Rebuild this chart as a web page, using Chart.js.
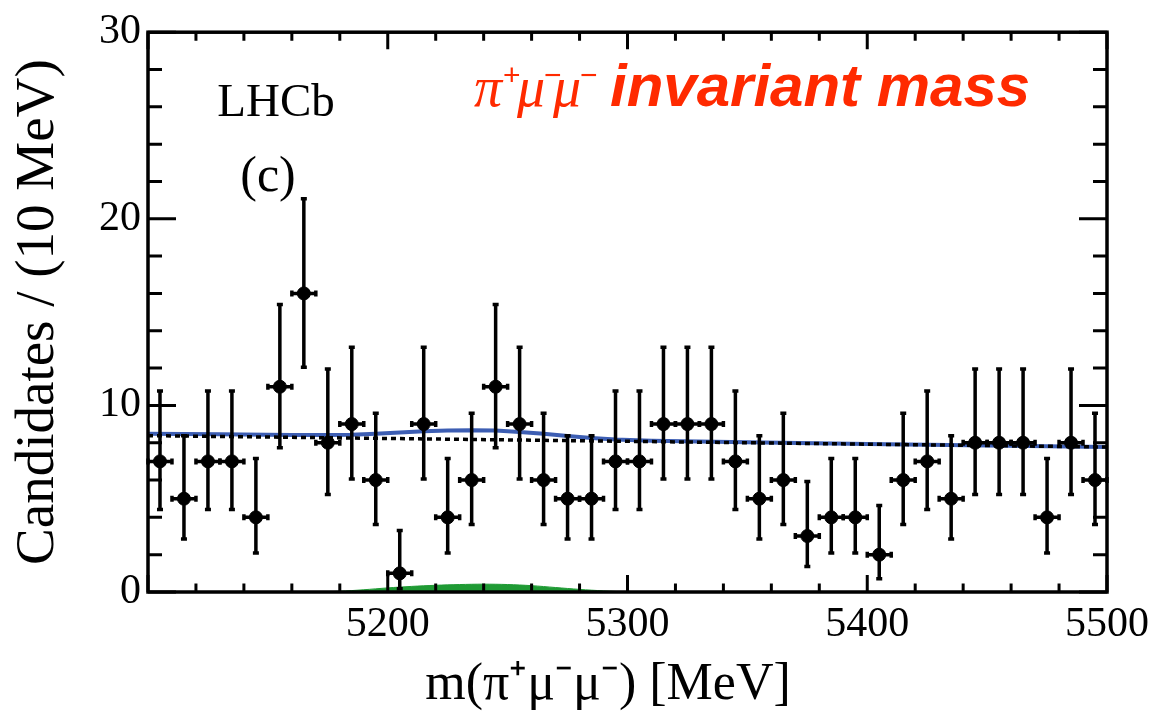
<!DOCTYPE html>
<html>
<head>
<meta charset="utf-8">
<script src="https://cdn.jsdelivr.net/npm/chart.js@4.4.1/dist/chart.umd.min.js"></script>
<style>
html,body{margin:0;padding:0;background:#fff;}
#wrap{width:1157px;height:717px;}
</style>
</head>
<body>
<div id="wrap"><canvas id="c" width="1157" height="717"></canvas></div>
<script>
// ---- data ----
const binCenters = [5105,5115,5125,5135,5145,5155,5165,5175,5185,5195,
                    5205,5215,5225,5235,5245,5255,5265,5275,5285,5295,
                    5305,5315,5325,5335,5345,5355,5365,5375,5385,5395,
                    5405,5415,5425,5435,5445,5455,5465,5475,5485,5495];
const counts = [7,5,7,7,4,11,16,8,9,6,
                1,9,4,6,11,9,6,5,5,7,
                7,9,9,9,7,5,6,3,4,4,
                2,6,7,5,8,8,8,4,8,6];
const errLow = [4.42,2.84,4.42,4.42,2.09,7.73,12.05,5.23,6.06,3.62,
                0.17,6.06,2.09,3.62,7.73,6.06,3.62,2.84,2.84,4.42,
                4.42,6.06,6.06,6.06,4.42,2.84,3.62,1.37,2.09,2.09,
                0.71,3.62,4.42,2.84,5.23,5.23,5.23,2.09,5.23,3.62];
const errHigh = [10.77,8.38,10.77,10.77,7.16,15.41,21.08,11.95,13.11,9.58,
                 3.30,13.11,7.16,9.58,15.41,13.11,9.58,8.38,8.38,10.77,
                 10.77,13.11,13.11,13.11,10.77,8.38,9.58,5.92,7.16,7.16,
                 4.64,9.58,10.77,8.38,11.95,11.95,11.95,7.16,11.95,9.58];
const binHalfWidth = 5;

const fitX     = [5100,5100,5130,5160,5175,5185,5195,5205,5215,5225,5235,5245,5255,5265,5275,5285,5295,5310,5350,5400,5450,5500,5500];
const fitTotal = [0,8.48,8.45,8.42,8.41,8.43,8.48,8.55,8.61,8.65,8.67,8.65,8.58,8.48,8.36,8.25,8.17,8.11,8.02,7.93,7.85,7.77,0];
const bkgX     = [5100,5100,5500,5500];
const bkgVals  = [0,8.38,7.77,0];
const sigX     = [5170,5180,5190,5200,5210,5220,5230,5240,5250,5260,5270,5280,5290,5300];
const sigVals  = [0,0.04,0.12,0.22,0.30,0.36,0.40,0.42,0.40,0.34,0.24,0.14,0.06,0];

const xTickLabels = ['5200','5300','5400','5500'];
const yTickLabels = ['0','10','20','30'];

const toXY = (xs, ys) => xs.map((x,i)=>({x:x, y:ys[i]}));

// ---- plugins ----
const errorBars = {
  id:'errorBars',
  beforeDatasetDraw(chart, args){
    if (args.index !== 0) return;
    const xs = chart.scales.x, ys = chart.scales.y, ctx = chart.ctx;
    ctx.save();
    ctx.strokeStyle = '#000';
    ctx.lineWidth = 3.5;
    const cap = 3;
    binCenters.forEach((c,i)=>{
      const px = xs.getPixelForValue(c);
      const py = ys.getPixelForValue(counts[i]);
      const yl = ys.getPixelForValue(errLow[i]);
      const yh = ys.getPixelForValue(errHigh[i]);
      const xl = xs.getPixelForValue(c - binHalfWidth);
      const xr = xs.getPixelForValue(c + binHalfWidth);
      ctx.beginPath();
      ctx.moveTo(px, yl); ctx.lineTo(px, yh);
      ctx.moveTo(xl, py); ctx.lineTo(xr, py);
      ctx.moveTo(px-cap, yl); ctx.lineTo(px+cap, yl);
      ctx.moveTo(px-cap, yh); ctx.lineTo(px+cap, yh);
      ctx.moveTo(xl, py-cap); ctx.lineTo(xl, py+cap);
      ctx.moveTo(xr, py-cap); ctx.lineTo(xr, py+cap);
      ctx.stroke();
    });
    ctx.restore();
  }
};

const frameAndText = {
  id:'frameAndText',
  afterDraw(chart){
    const ctx = chart.ctx, a = chart.chartArea;
    const xs = chart.scales.x, ys = chart.scales.y;
    ctx.save();
    ctx.strokeStyle = '#000';
    ctx.lineWidth = 3;
    ctx.lineCap = 'butt';
    ctx.beginPath();
    for (let v = 5100; v <= 5500; v += 20) {
      const px = xs.getPixelForValue(v);
      const len = (v % 100 === 0) ? 17 : 8.5;
      ctx.moveTo(px, a.bottom); ctx.lineTo(px, a.bottom - len);
      ctx.moveTo(px, a.top); ctx.lineTo(px, a.top + len);
    }
    for (let v = 0; v <= 30; v += 2) {
      const py = ys.getPixelForValue(v);
      const len = (v % 10 === 0) ? 28 : 14;
      ctx.moveTo(a.left, py); ctx.lineTo(a.left + len, py);
      ctx.moveTo(a.right, py); ctx.lineTo(a.right - len, py);
    }
    ctx.stroke();
    ctx.lineWidth = 3.5;
    ctx.strokeRect(a.left, a.top, a.right - a.left, a.bottom - a.top);

    // LHCb label
    ctx.fillStyle = '#000';
    ctx.textAlign = 'center';
    ctx.textBaseline = 'alphabetic';
    ctx.font = '47px "Liberation Serif"';
    ctx.fillText('LHCb', 276, 116);
    ctx.font = '50px "Liberation Serif"';
    ctx.fillText('(c)', 268, 191);

    // red annotation
    ctx.fillStyle = '#ff2a00';
    ctx.textAlign = 'left';
    const base = 106;
    const gfont = 'italic 56px "Liberation Serif"';
    const sfont = '30px "Liberation Sans"';
    const parts = [
      ['π', gfont, 0, 474],
      ['+', sfont, -21, 503],
      ['μ', gfont, 0, 517],
      ['−', sfont, -21, 544],
      ['μ', gfont, 0, 553],
      ['−', sfont, -21, 580],
      ['invariant mass', 'italic bold 60px "Liberation Sans"', 0, 610]
    ];
    parts.forEach(p=>{
      ctx.font = p[1];
      ctx.fillText(p[0], p[3], base + p[2]);
    });
    ctx.restore();
  }
};

const serif = '"Liberation Serif", "Times New Roman", serif';

new Chart(document.getElementById('c'), {
  type: 'scatter',
  data: {
    datasets: [
      {
        label: 'data',
        data: toXY(binCenters, counts),
        backgroundColor: '#000',
        borderColor: '#000',
        pointRadius: 6.5,
        pointStyle: 'circle',
        order: 0
      },
      {
        type: 'line',
        label: 'total',
        data: toXY(fitX, fitTotal),
        borderColor: '#3d5eb3',
        borderWidth: 4,
        pointRadius: 0,
        fill: false,
        tension: 0,
        segment: {
          borderWidth: ctx => (ctx.p0DataIndex === 0 || ctx.p1DataIndex === fitX.length - 1) ? 2 : 4,
          borderDash: ctx => (ctx.p0DataIndex === 0 || ctx.p1DataIndex === fitX.length - 1) ? [3,3] : []
        },
        order: 2
      },
      {
        type: 'line',
        label: 'background',
        data: toXY(bkgX, bkgVals),
        borderColor: '#000',
        borderWidth: 3.5,
        borderDash: [5,4],
        pointRadius: 0,
        fill: false,
        segment: {
          borderWidth: ctx => (ctx.p0DataIndex === 0 || ctx.p1DataIndex === bkgX.length - 1) ? 1.5 : 3.5,
          borderDash: ctx => (ctx.p0DataIndex === 0 || ctx.p1DataIndex === bkgX.length - 1) ? [3,3] : [5,4]
        },
        order: 1
      },
      {
        type: 'line',
        label: 'signal',
        data: toXY(sigX, sigVals),
        borderColor: '#1f9a34',
        backgroundColor: '#1f9a34',
        borderWidth: 1,
        pointRadius: 0,
        fill: 'origin',
        tension: 0.3,
        order: 3
      }
    ]
  },
  options: {
    responsive: false,
    animation: false,
    events: [],
    layout: { padding: { top: 28, right: 50, left: 0, bottom: 0 } },
    plugins: { legend: { display: false }, tooltip: { enabled: false } },
    scales: {
      x: {
        type: 'linear',
        min: 5100, max: 5500,
        grid: { display: false, drawTicks: false },
        border: { display: false },
        ticks: {
          stepSize: 100,
          color: '#000',
          font: { family: serif, size: 42 },
          padding: 8,
          maxRotation: 0,
          callback: v => xTickLabels.includes(String(v)) ? String(v) : ''
        },
        title: {
          display: true,
          text: 'm(π⁺μ⁻μ⁻) [MeV]   ',
          color: '#000',
          font: { family: serif, size: 52 },
          padding: { top: 0, bottom: 0 }
        },
        afterFit: s => { s.height = 125; }
      },
      y: {
        type: 'linear',
        min: 0, max: 30,
        grid: { display: false, drawTicks: false },
        border: { display: false },
        ticks: {
          stepSize: 10,
          color: '#000',
          font: { family: serif, size: 42 },
          padding: 7,
          callback: v => yTickLabels.includes(String(v)) ? String(v) : ''
        },
        title: {
          display: true,
          text: 'Candidates / (10 MeV)',
          color: '#000',
          font: { family: serif, size: 55 },
          padding: { top: 6, bottom: 0 }
        },
        afterFit: s => { s.width = 148; }
      }
    }
  },
  plugins: [errorBars, frameAndText]
});
</script>
</body>
</html>
